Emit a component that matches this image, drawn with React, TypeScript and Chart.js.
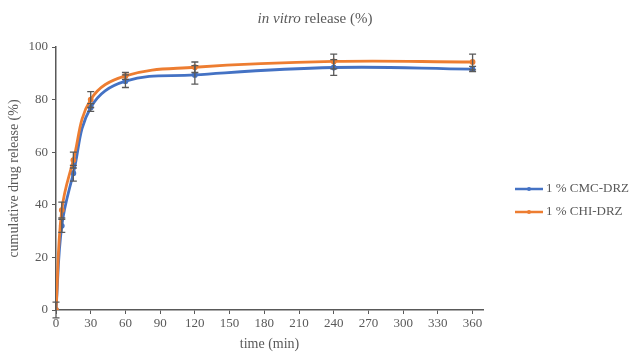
import { useEffect, useRef } from 'react';
import { Chart, registerables } from 'chart.js';

Chart.register(...registerables);

const times = [0, 5, 15, 30, 60, 120, 240, 360];
const cmcValues = [0, 32, 52, 77, 87, 89.4, 92.2, 91.6];
const cmcErrors = [0, 2.5, 3, 1.5, 2.4, 3.5, 3, 1];
const chiValues = [0, 38, 57, 80, 89, 92.3, 94.5, 94.3];
const chiErrors = [3, 3, 3, 3, 1.3, 2, 2.8, 3];
const xTicks = [0, 30, 60, 90, 120, 150, 180, 210, 240, 270, 300, 330, 360];
const yTicks = [0, 20, 40, 60, 80, 100];
const seriesNames = ['1 % CMC-DRZ', '1 % CHI-DRZ'];
const seriesColors = ['#4472C4', '#ED7D31'];
const titleItalic = 'in vitro';
const titleRest = ' release (%)';
const xTitle = 'time (min)';
const yTitle = 'cumulative drug release (%)';

const FONT = "'Liberation Serif', 'Times New Roman', serif";
const GRAY = '#595959';

export default function App() {
  const ref = useRef<HTMLCanvasElement | null>(null);

  useEffect(() => {
    document.body.style.margin = '0';
    const canvas = ref.current;
    if (!canvas) return;
    const errorsBySeries = [cmcErrors, chiErrors];

    const errorBars = {
      id: 'errorBars',
      afterDatasetsDraw(chart: any) {
        const ctx = chart.ctx;
        const ys = chart.scales.y;
        ctx.save();
        ctx.strokeStyle = GRAY;
        ctx.lineWidth = 1.3;
        chart.data.datasets.forEach((ds: any, i: number) => {
          const meta = chart.getDatasetMeta(i);
          const errs = errorsBySeries[i];
          meta.data.forEach((pt: any, j: number) => {
            const v = ds.data[j].y;
            const e = errs[j];
            if (!e) return;
            const x = pt.x;
            const t = ys.getPixelForValue(v + e);
            const b = ys.getPixelForValue(v - e);
            ctx.beginPath();
            ctx.moveTo(x, t);
            ctx.lineTo(x, b);
            ctx.moveTo(x - 3.5, t);
            ctx.lineTo(x + 3.5, t);
            ctx.moveTo(x - 3.5, b);
            ctx.lineTo(x + 3.5, b);
            ctx.stroke();
          });
        });
        ctx.restore();
      },
    };

    const decorations = {
      id: 'decorations',
      afterDraw(chart: any) {
        const ctx = chart.ctx;
        ctx.save();
        ctx.fillStyle = GRAY;
        ctx.textBaseline = 'middle';
        ctx.textAlign = 'left';
        ctx.font = `italic 15px ${FONT}`;
        const w1 = ctx.measureText(titleItalic).width;
        ctx.font = `15px ${FONT}`;
        const w2 = ctx.measureText(titleRest).width;
        const sx = 315 - (w1 + w2) / 2;
        ctx.font = `italic 15px ${FONT}`;
        ctx.fillText(titleItalic, sx, 19);
        ctx.font = `15px ${FONT}`;
        ctx.fillText(titleRest, sx + w1, 19);
        ctx.font = `13px ${FONT}`;
        seriesNames.forEach((name, i) => {
          const y = 189 + i * 23;
          ctx.strokeStyle = seriesColors[i];
          ctx.lineWidth = 2.5;
          ctx.beginPath();
          ctx.moveTo(515, y);
          ctx.lineTo(543, y);
          ctx.stroke();
          ctx.fillStyle = seriesColors[i];
          ctx.beginPath();
          ctx.arc(529, y, 2, 0, Math.PI * 2);
          ctx.fill();
          ctx.fillStyle = GRAY;
          ctx.fillText(name, 546, y);
        });
        ctx.restore();
      },
    };

    const mk = (vals: number[]) => times.map((t, i) => ({ x: t, y: vals[i] }));

    const chart = new Chart(canvas, {
      type: 'line',
      data: {
        datasets: [
          {
            label: seriesNames[0],
            data: mk(cmcValues),
            borderColor: seriesColors[0],
            backgroundColor: seriesColors[0],
            borderWidth: 2.8,
            pointRadius: 1.5,
            tension: 0.4,
            order: 1,
          },
          {
            label: seriesNames[1],
            data: mk(chiValues),
            borderColor: seriesColors[1],
            backgroundColor: seriesColors[1],
            borderWidth: 2.8,
            pointRadius: 1.5,
            tension: 0.4,
            order: 0,
          },
        ],
      },
      options: {
        responsive: false,
        animation: false,
        layout: { padding: { top: 47, right: 148, left: 0, bottom: 0 } },
        plugins: {
          legend: { display: false },
          title: { display: false },
          tooltip: { enabled: false },
        },
        scales: {
          x: {
            type: 'linear',
            min: 0,
            max: 369,
            afterBuildTicks: (s: any) => {
              s.ticks = xTicks.map((v) => ({ value: v }));
            },
            afterFit: (s: any) => {
              s.height = 43;
            },
            ticks: {
              color: GRAY,
              font: { family: FONT, size: 13 },
              maxRotation: 0,
              autoSkip: false,
              padding: 2,
            },
            grid: {
              display: true,
              drawOnChartArea: false,
              drawTicks: true,
              tickLength: 4,
              color: GRAY,
            },
            border: { display: true, color: GRAY, width: 1.5 },
            title: {
              display: true,
              text: xTitle,
              color: GRAY,
              font: { family: FONT, size: 14 },
              padding: { top: 0, bottom: 0 },
            },
          },
          y: {
            min: 0,
            max: 100,
            afterBuildTicks: (s: any) => {
              s.ticks = yTicks.map((v) => ({ value: v }));
            },
            afterFit: (s: any) => {
              s.width = 56;
            },
            ticks: {
              color: GRAY,
              font: { family: FONT, size: 13 },
              padding: 4,
            },
            grid: {
              display: true,
              drawOnChartArea: false,
              drawTicks: true,
              tickLength: 4,
              color: GRAY,
            },
            border: { display: true, color: GRAY, width: 1.5 },
            title: {
              display: true,
              text: yTitle,
              color: GRAY,
              font: { family: FONT, size: 14 },
              padding: { top: 6, bottom: 0 },
            },
          },
        },
      },
      plugins: [errorBars, decorations],
    } as any);

    return () => chart.destroy();
  }, []);

  return (
    <div style={{ width: 631, height: 353, position: 'relative', background: '#fff' }}>
      <canvas ref={ref} width={631} height={353} style={{ display: 'block' }} />
    </div>
  );
}
